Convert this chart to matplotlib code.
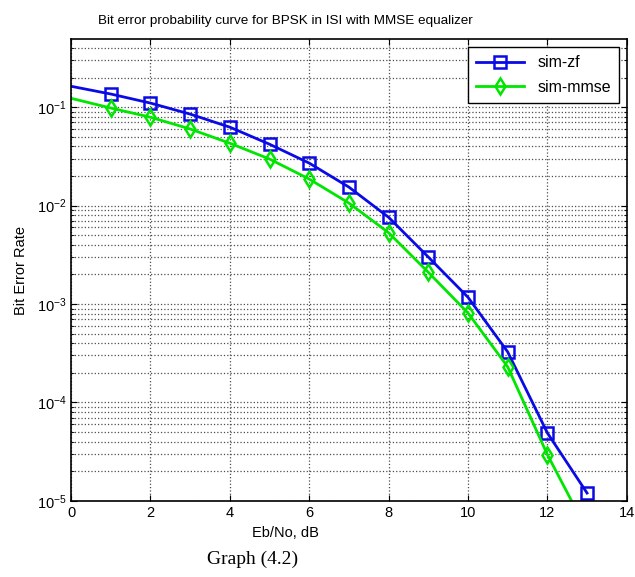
import numpy as np
import matplotlib.pyplot as plt
from matplotlib.ticker import LogLocator, NullFormatter

plt.rcParams['font.family'] = ['Liberation Sans', 'DejaVu Sans']

# Eb/No in dB
ebno = [0, 1, 2, 3, 4, 5, 6, 7, 8, 9, 10, 11, 12, 13]
# simulated BER
ber_zf = [0.163, 0.136, 0.110, 0.085, 0.0626, 0.042, 0.027, 0.0154,
          0.0076, 0.0030, 0.00117, 0.000326, 4.9e-5, 1.2e-5]
ber_mmse = [0.123, 0.098, 0.079, 0.060, 0.043, 0.0297, 0.0186, 0.0106,
            0.0053, 0.0021, 0.00081, 0.00023, 2.95e-5, 5.0e-6]

fig = plt.figure(figsize=(6.35, 5.77), dpi=100)
ax = fig.add_axes([0.112, 0.132, 0.875, 0.800])

# no marker drawn at the 0 dB point in the original
ax.semilogy(ebno, ber_zf, '-s', color='#0a0ae6', lw=2, ms=8,
            mfc='none', mec='#0a0ae6', mew=1.8, markevery=slice(1, None),
            label='sim-zf')
ax.semilogy(ebno, ber_mmse, '-d', color='#00e600', lw=2, ms=8,
            mfc='none', mec='#00e600', mew=1.8, markevery=slice(1, None),
            label='sim-mmse')

ax.set_xlim(0, 14)
ax.set_ylim(1e-5, 0.49)
ax.set_xticks(range(0, 15, 2))
ax.yaxis.set_major_locator(LogLocator(base=10, numticks=10))
ax.yaxis.set_minor_locator(LogLocator(base=10, subs=np.arange(2, 10), numticks=10))
ax.yaxis.set_minor_formatter(NullFormatter())

ax.grid(True, which='major', color='0.3', ls=':', lw=0.9)
ax.grid(True, which='minor', axis='y', color='0.3', ls=':', lw=0.9)
ax.tick_params(which='both', direction='in', top=True, right=True, labelsize=10.5)
ax.tick_params(which='major', length=4)
ax.tick_params(which='minor', length=2)
for sp in ax.spines.values():
    sp.set_linewidth(1.2)

ax.set_title('Bit error probability curve for BPSK in ISI with MMSE equalizer',
             fontsize=9.7, x=0.385, pad=11)
ax.set_xlabel('Eb/No, dB', fontsize=10.5)
ax.xaxis.set_label_coords(0.385, -0.055)
ax.set_ylabel('Bit Error Rate', fontsize=10.5)
ax.yaxis.set_label_coords(-0.078, 0.5)

leg = ax.legend(loc='upper right', fontsize=11.5, fancybox=False, framealpha=1,
                edgecolor='black', handlelength=3, borderaxespad=0.5,
                labelspacing=0.6, borderpad=0.5)
leg.get_frame().set_linewidth(1.0)

fig.text(0.397, 0.022, 'Graph (4.2)', fontsize=14, ha='center',
         family=['Liberation Serif', 'DejaVu Serif'])

fig.savefig('out.png', dpi=100)
